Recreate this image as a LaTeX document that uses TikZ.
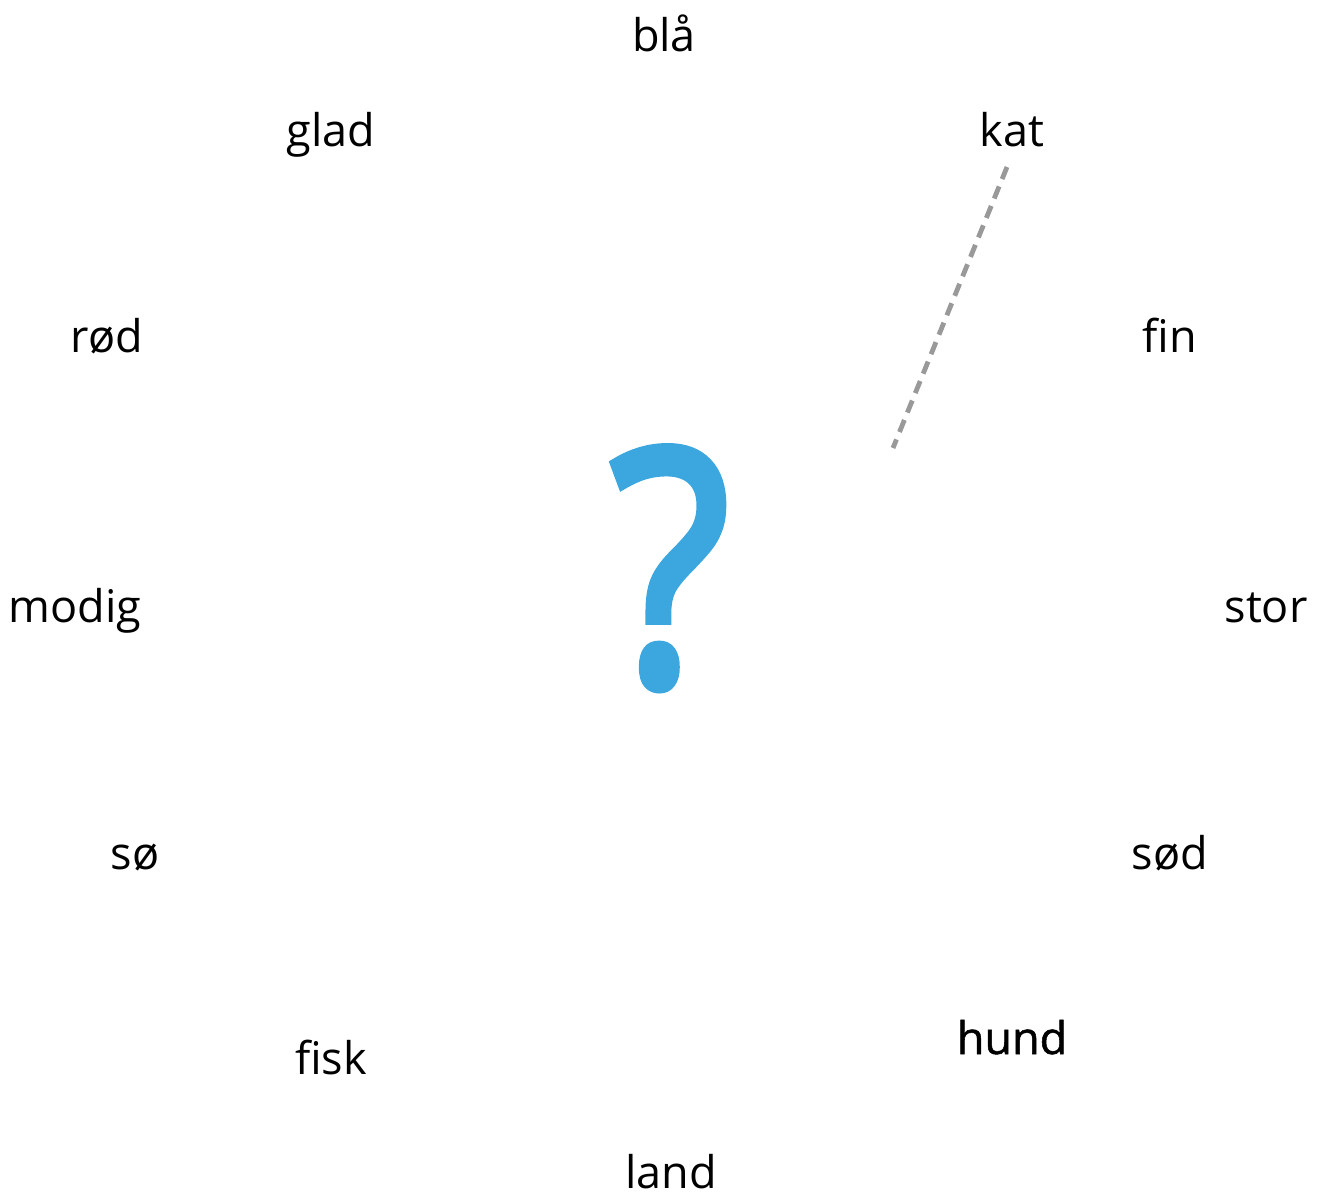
\documentclass[tikz,border=0pt]{standalone}
\usepackage{fontspec}
\setmainfont{Open Sans}
\newfontfamily\hundfont[FakeBold=1.2]{Open Sans}
\newfontfamily\qfont[FakeBold=3]{Open Sans}
\definecolor{qblue}{HTML}{3BA7DE}
\definecolor{dashgray}{HTML}{999999}
\begin{document}
\begin{tikzpicture}[x=1pt,y=-1pt,
  word/.style={anchor=base,inner sep=0pt,font=\fontsize{45}{50}\selectfont,text=black},
  link/.style={draw=dashgray,line width=4.8pt,dash pattern=on 13pt off 8pt}]
\useasboundingbox (0,0) rectangle (1324,1194);
\node[word] (bla) at (664,51) {blå};
\node[word] (glad) at (331,146) {glad};
\node[word] (kat) at (1012,146) {kat};
\node[word] (rod) at (107,352) {rød};
\node[word] (fin) at (1170,352) {fin};
\node[word] (modig) at (75,622) {modig};
\node[word] (stor) at (1266,622) {stor};
\node[word] (so) at (135,869) {sø};
\node[word] (sod) at (1170,869) {sød};
\node[word] (fisk) at (331,1074) {fisk};
\node[word,font=\hundfont\fontsize{45}{50}\selectfont] (hund) at (1012,1054) {hund};
\node[word,text depth=0pt] (land) at (671,1188) {land};
\node[anchor=base,inner sep=0pt,text=qblue,font=\qfont\fontsize{326}{326}\selectfont] (q) at (670,684) {\scalebox{0.85}[1]{?}};
\coordinate (a) at (1007,167);
\coordinate (b) at (893,448);
\draw[link] (a) -- (b);
\end{tikzpicture}
\end{document}
